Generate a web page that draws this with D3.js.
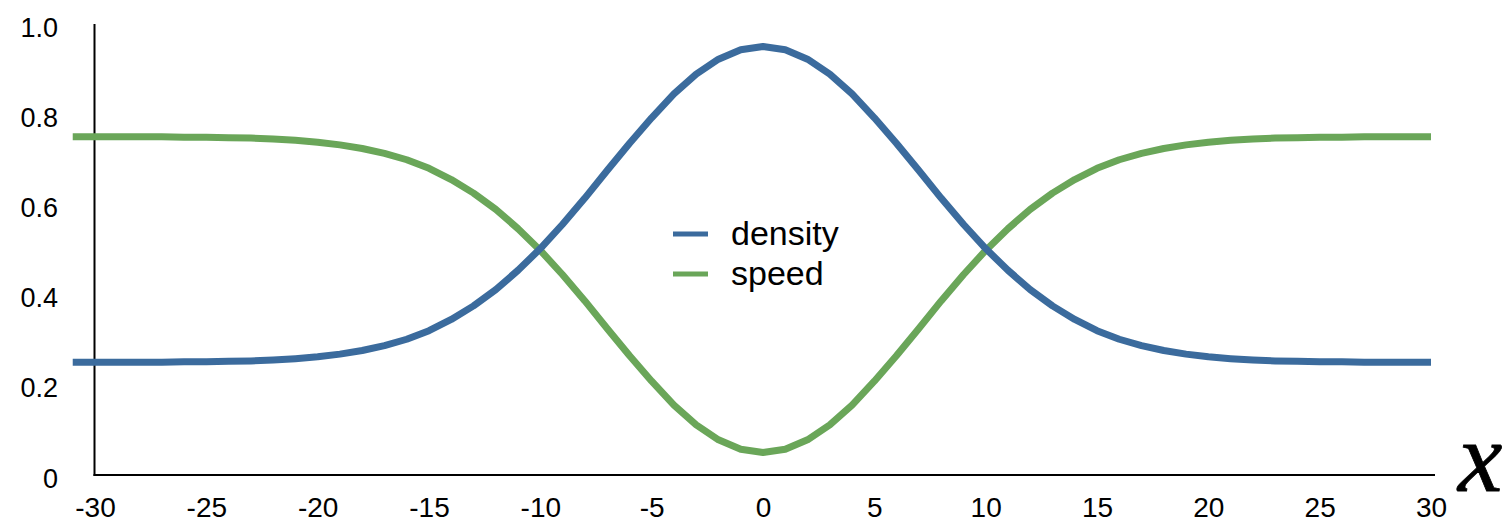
<!DOCTYPE html>
<html>
<head>
<meta charset="utf-8">
<script src="https://cdn.jsdelivr.net/npm/d3@7"></script>
<style>
  html, body { margin: 0; padding: 0; background: #fff; }
  svg { display: block; }
</style>
</head>
<body>
<svg id="chart" width="1511" height="526"></svg>
<script>
// ---- data ----
const xs = [-31,-30,-29,-28,-27,-26,-25,-24,-23,-22,-21,-20,-19,-18,-17,-16,-15,-14,-13,-12,-11,-10,-9,-8,-7,-6,-5,-4,-3,-2,-1,0,1,2,3,4,5,6,7,8,9,10,11,12,13,14,15,16,17,18,19,20,21,22,23,24,25,26,27,28,29,30];
const density = [0.250,0.250,0.250,0.250,0.250,0.251,0.251,0.252,0.253,0.255,0.258,0.262,0.268,0.276,0.287,0.301,0.320,0.345,0.375,0.411,0.454,0.502,0.556,0.614,0.675,0.735,0.792,0.845,0.889,0.922,0.943,0.950,0.943,0.922,0.889,0.845,0.792,0.735,0.675,0.614,0.556,0.502,0.454,0.411,0.375,0.345,0.320,0.301,0.287,0.276,0.268,0.262,0.258,0.255,0.253,0.252,0.251,0.251,0.250,0.250,0.250,0.250];
const speed = [0.750,0.750,0.750,0.750,0.750,0.749,0.749,0.748,0.747,0.745,0.742,0.738,0.732,0.724,0.713,0.699,0.680,0.655,0.625,0.589,0.546,0.498,0.444,0.386,0.325,0.265,0.208,0.155,0.111,0.078,0.057,0.050,0.057,0.078,0.111,0.155,0.208,0.265,0.325,0.386,0.444,0.498,0.546,0.589,0.625,0.655,0.680,0.699,0.713,0.724,0.732,0.738,0.742,0.745,0.747,0.748,0.749,0.749,0.750,0.750,0.750,0.750];
const seriesNames = ["density", "speed"];
const xTickValues = [-30,-25,-20,-15,-10,-5,0,5,10,15,20,25,30];
const xTickLabels = ["-30","-25","-20","-15","-10","-5","0","5","10","15","20","25","30"];
const yTickValues = [0,0.2,0.4,0.6,0.8,1.0];
const yTickLabels = ["0","0.2","0.4","0.6","0.8","1.0"];
const axisTitle = "x";

// ---- styles ----
const colors = { density: "#3b6b9d", speed: "#6aa659" };
const sans = "'Liberation Sans', Arial, Helvetica, sans-serif";

const svg = d3.select("#chart");
const x = d3.scaleLinear().domain([-30, 30]).range([95, 1431]);
const y = d3.scaleLinear().domain([0, 1]).range([475, 24]);

// axes (labels only)
const xAxis = d3.axisBottom(x)
  .tickValues(xTickValues)
  .tickFormat((d, i) => xTickLabels[i])
  .tickSize(0).tickSizeOuter(0).tickPadding(22);
const gx = svg.append("g").attr("transform", `translate(0,${y(0)})`).call(xAxis);
gx.select(".domain").remove();
gx.selectAll("text").style("font-size", "28px").style("font-family", sans).attr("fill", "#000");

const yAxis = d3.axisLeft(y)
  .tickValues(yTickValues)
  .tickFormat((d, i) => yTickLabels[i])
  .tickSize(0).tickSizeOuter(0).tickPadding(37);
const gy = svg.append("g").attr("transform", `translate(${x(-30)},0)`).call(yAxis);
gy.select(".domain").remove();
gy.selectAll("text").style("font-size", "27px").style("font-family", sans).attr("fill", "#000").attr("dy", "0.45em");

// axis lines
svg.append("line")
  .attr("x1", x(-30) - 0.5).attr("x2", x(-30) - 0.5)
  .attr("y1", y(1)).attr("y2", y(0) + 1)
  .attr("stroke", "#000").attr("stroke-width", 2);
svg.append("line")
  .attr("x1", x(-30) - 1.5).attr("x2", x(30) + 4)
  .attr("y1", y(0)).attr("y2", y(0))
  .attr("stroke", "#000").attr("stroke-width", 2);

// lines
const line = d3.line().x(d => x(d[0])).y(d => y(d[1]));
const seriesData = {
  density: xs.map((v, i) => [v, density[i]]),
  speed: xs.map((v, i) => [v, speed[i]])
};
["speed", "density"].forEach(name => {
  svg.append("path")
    .datum(seriesData[name])
    .attr("fill", "none")
    .attr("stroke", colors[name])
    .attr("stroke-width", 7)
    .attr("stroke-linejoin", "round")
    .attr("d", line);
});

// legend
const legend = svg.append("g").attr("transform", "translate(673,234)");
seriesNames.forEach((name, i) => {
  const g = legend.append("g").attr("transform", `translate(0,${i * 40})`);
  g.append("line").attr("x1", 0).attr("x2", 35).attr("y1", 0).attr("y2", 0)
    .attr("stroke", colors[name]).attr("stroke-width", 5);
  g.append("text").attr("x", 58).attr("y", 0).attr("dy", "0.33em")
    .style("font-size", "34px").style("font-family", sans).attr("fill", "#000").text(name);
});

// axis title
svg.append("text")
  .attr("x", 1458).attr("y", 491)
  .style("font-family", "'Liberation Serif', 'Times New Roman', serif")
  .style("font-style", "italic")
  .style("font-size", "100px")
  .attr("fill", "#000")
  .attr("stroke", "#000")
  .attr("stroke-width", 0.8)
  .text(axisTitle);
</script>
</body>
</html>
